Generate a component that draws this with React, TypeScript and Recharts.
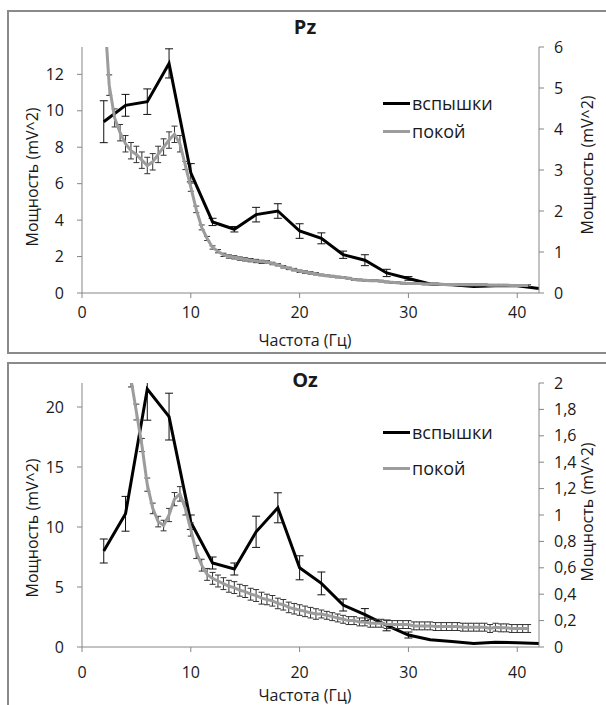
import React from "react";
import { LineChart, Line, XAxis, YAxis, ErrorBar, Legend } from "recharts";

// частоты для вспышек (шаг 2 Гц)
const flashFreq = [2, 4, 6, 8, 10, 12, 14, 16, 18, 20, 22, 24, 26, 28, 30, 32, 34, 36, 38, 40, 42];

// Pz, вспышки (левая ось)
const pzFlash = [9.4, 10.3, 10.5, 12.6, 6.6, 3.9, 3.5, 4.3, 4.5, 3.4, 3.0, 2.1, 1.8, 1.1, 0.8, 0.5, 0.45, 0.35, 0.4, 0.4, 0.25];
const pzFlashErr = [1.15, 0.6, 0.7, 0.8, 0.5, 0.2, 0.15, 0.4, 0.4, 0.4, 0.3, 0.2, 0.3, 0.2, 0.1, 0, 0, 0, 0, 0, 0];

// Oz, вспышки (левая ось)
const ozFlash = [8.0, 11.1, 21.5, 19.2, 10.4, 7.0, 6.5, 9.6, 11.6, 6.6, 5.3, 3.5, 2.7, 1.8, 1.0, 0.6, 0.45, 0.3, 0.4, 0.35, 0.3];
const ozFlashErr = [1.0, 1.45, 2.6, 1.95, 0.6, 0.5, 0.5, 1.3, 1.25, 1.0, 0.95, 0.5, 0.5, 0.45, 0.25, 0, 0, 0, 0, 0, 0];

// частоты для покоя (шаг 0,5 Гц)
const restFreq = [
  2, 2.5, 3, 3.5, 4, 4.5, 5, 5.5, 6, 6.5,
  7, 7.5, 8, 8.5, 9, 9.5, 10, 10.5, 11, 11.5,
  12, 12.5, 13, 13.5, 14, 14.5, 15, 15.5, 16, 16.5,
  17, 17.5, 18, 18.5, 19, 19.5, 20, 20.5, 21, 21.5,
  22, 22.5, 23, 23.5, 24, 24.5, 25, 25.5, 26, 26.5,
  27, 27.5, 28, 28.5, 29, 29.5, 30, 30.5, 31, 31.5,
  32, 32.5, 33, 33.5, 34, 34.5, 35, 35.5, 36, 36.5,
  37, 37.5, 38, 38.5, 39, 39.5, 40, 40.5, 41,
];

// Pz, покой (правая ось)
const pzRest = [
  7.1, 5.07, 4.27, 3.91, 3.64, 3.47, 3.38, 3.24, 3.11, 3.2,
  3.38, 3.56, 3.73, 3.87, 3.64, 3.11, 2.58, 2.04, 1.6, 1.33,
  1.11, 1.02, 0.93, 0.89, 0.87, 0.84, 0.82, 0.8, 0.78, 0.76,
  0.76, 0.72, 0.69, 0.64, 0.6, 0.57, 0.53, 0.51, 0.49, 0.47,
  0.44, 0.42, 0.41, 0.39, 0.38, 0.36, 0.33, 0.32, 0.31, 0.3,
  0.3, 0.29, 0.27, 0.26, 0.25, 0.24, 0.23, 0.23, 0.23, 0.22,
  0.22, 0.22, 0.21, 0.21, 0.21, 0.21, 0.2, 0.2, 0.2, 0.2,
  0.2, 0.19, 0.19, 0.19, 0.19, 0.18, 0.18, 0.18, 0.18,
];
const pzRestErr = [
  0.35, 0.25, 0.22, 0.2, 0.2, 0.2, 0.2, 0.2, 0.2, 0.2,
  0.2, 0.2, 0.2, 0.2, 0.2, 0.1, 0.1, 0.08, 0.06, 0.05,
  0.04, 0.04, 0.04, 0.04, 0.04, 0.04, 0.04, 0.04, 0.04, 0.04,
  0.03, 0.03, 0.03, 0.03, 0.03, 0.03, 0.03, 0.03, 0.03, 0.03,
  0.02, 0.02, 0.02, 0.02, 0.02, 0.02, 0.02, 0.02, 0.02, 0.02,
  0.02, 0.02, 0.02, 0.02, 0.02, 0.02, 0.02, 0.02, 0.02, 0.02,
  0.02, 0.02, 0.02, 0.02, 0.02, 0.02, 0.02, 0.02, 0.02, 0.02,
  0.02, 0.02, 0.02, 0.02, 0.02, 0.02, 0.02, 0.02, 0.02,
];

// Oz, покой (правая ось)
const ozRest = [
  3.6, 3.27, 2.9, 2.55, 2.27, 2.03, 1.78, 1.53, 1.23, 1.05,
  0.95, 0.92, 1.0, 1.12, 1.16, 1.05, 0.89, 0.72, 0.62, 0.55,
  0.52, 0.5, 0.48, 0.46, 0.45, 0.43, 0.42, 0.4, 0.39, 0.37,
  0.36, 0.35, 0.33, 0.32, 0.3, 0.29, 0.28, 0.27, 0.26, 0.25,
  0.25, 0.24, 0.23, 0.22, 0.21, 0.2, 0.2, 0.19, 0.19, 0.18,
  0.18, 0.18, 0.17, 0.17, 0.17, 0.17, 0.17, 0.16, 0.16, 0.16,
  0.16, 0.155, 0.155, 0.155, 0.155, 0.155, 0.15, 0.15, 0.15, 0.15,
  0.15, 0.14, 0.15, 0.145, 0.145, 0.14, 0.14, 0.14, 0.14,
];
const ozRestErr = [
  0.06, 0.06, 0.06, 0.06, 0.06, 0.06, 0.06, 0.05, 0.05, 0.04,
  0.04, 0.04, 0.05, 0.05, 0.055, 0.05, 0.05, 0.05, 0.045, 0.045,
  0.045, 0.045, 0.045, 0.045, 0.045, 0.045, 0.045, 0.045, 0.045, 0.045,
  0.04, 0.04, 0.04, 0.04, 0.04, 0.04, 0.04, 0.04, 0.04, 0.04,
  0.03, 0.03, 0.03, 0.03, 0.03, 0.03, 0.03, 0.03, 0.03, 0.03,
  0.03, 0.03, 0.03, 0.03, 0.03, 0.03, 0.03, 0.03, 0.03, 0.03,
  0.03, 0.03, 0.03, 0.03, 0.03, 0.03, 0.03, 0.03, 0.03, 0.03,
  0.03, 0.03, 0.03, 0.03, 0.03, 0.03, 0.03, 0.03, 0.03,
];

const freqTicks = [0, 10, 20, 30, 40];
const pzLeftTicks = [0, 2, 4, 6, 8, 10, 12];
const pzRightTicks = [0, 1, 2, 3, 4, 5, 6];
const ozLeftTicks = [0, 5, 10, 15, 20];
const ozRightTicks = [0, 0.2, 0.4, 0.6, 0.8, 1, 1.2, 1.4, 1.6, 1.8, 2];

const rows = (freq: number[], v: number[], e: number[]) =>
  freq.map((f, i) => ({ f, v: v[i], e: e[i] }));

const AXIS = "#868686";
const TEXT = "#1a1a1a";
const FLASH = "#000000";
const REST = "#9c9c9c";

type PanelProps = {
  title: string;
  top: number;
  height: number;
  marginTop: number;
  marginBottom: number;
  tickGap: number;
  flash: { f: number; v: number; e: number }[];
  rest: { f: number; v: number; e: number }[];
  leftMax: number;
  leftTicks: number[];
  rightMax: number;
  rightTicks: number[];
  titleY: number;
  xTitleY: number;
  leftTitleY: number;
  rightTitleY: number;
  legendTop: number;
  legendRow: number;
};

function Panel(p: PanelProps) {
  const fmt = (v: number) => String(v).replace(".", ",");
  return (
    <div style={{ position: "absolute", left: 0, top: p.top, width: 606, height: p.height }}>
      <LineChart
        width={606}
        height={p.height}
        margin={{ top: p.marginTop, right: 0, left: 0, bottom: p.marginBottom }}
      >
        <XAxis
          xAxisId="x"
          dataKey="f"
          type="number"
          domain={[0, 42]}
          ticks={freqTicks}
          allowDataOverflow
          height={40}
          stroke={AXIS}
          tickSize={5}
          tickMargin={p.tickGap}
          tick={{ fill: TEXT, fontSize: 16 }}
        />
        <YAxis
          yAxisId="left"
          domain={[0, p.leftMax]}
          ticks={p.leftTicks}
          allowDataOverflow
          width={82}
          stroke={AXIS}
          tickSize={5}
          tickMargin={13}
          tick={{ fill: TEXT, fontSize: 16 }}
        />
        <YAxis
          yAxisId="right"
          orientation="right"
          domain={[0, p.rightMax]}
          ticks={p.rightTicks}
          tickFormatter={fmt}
          allowDataOverflow
          width={67}
          stroke={AXIS}
          tickSize={5}
          tickMargin={10}
          tick={{ fill: TEXT, fontSize: 16 }}
        />
        <Line
          data={p.flash}
          xAxisId="x"
          yAxisId="left"
          dataKey="v"
          name="вспышки"
          type="linear"
          stroke={FLASH}
          strokeWidth={3}
          dot={false}
          isAnimationActive={false}
        >
          <ErrorBar dataKey="e" direction="y" width={4} stroke="#111" strokeWidth={1} />
        </Line>
        <Line
          data={p.rest}
          xAxisId="x"
          yAxisId="right"
          dataKey="v"
          name="покой"
          type="linear"
          stroke={REST}
          strokeWidth={3}
          dot={false}
          isAnimationActive={false}
        >
          <ErrorBar dataKey="e" direction="y" width={3} stroke="#333" strokeWidth={1} />
        </Line>
        <Legend
          layout="vertical"
          align="center"
          verticalAlign="middle"
          wrapperStyle={{ left: 383, top: p.legendTop, width: 140 }}
          content={() => (
            <div>
              {[
                { name: "вспышки", color: FLASH },
                { name: "покой", color: REST },
              ].map((it) => (
                <div
                  key={it.name}
                  style={{ display: "flex", alignItems: "center", height: p.legendRow }}
                >
                  <span style={{ width: 27, height: 3, background: it.color, marginRight: 2 }} />
                  <span style={{ fontSize: 18, color: TEXT }}>{it.name}</span>
                </div>
              ))}
            </div>
          )}
        />
        <text x={305} y={p.xTitleY} textAnchor="middle" dominantBaseline="central" fontSize={16} fill={TEXT}>
          Частота (Гц)
        </text>
        <text
          x={32}
          y={p.leftTitleY}
          textAnchor="middle"
          dominantBaseline="central"
          fontSize={16}
          fill={TEXT}
          transform={`rotate(-90 32 ${p.leftTitleY})`}
        >
          Мощность (mV^2)
        </text>
        <text
          x={587}
          y={p.rightTitleY}
          textAnchor="middle"
          dominantBaseline="central"
          fontSize={16}
          fill={TEXT}
          transform={`rotate(-90 587 ${p.rightTitleY})`}
        >
          Мощность (mV^2)
        </text>
      </LineChart>
      {/* error bars are not clipped to the plot, so hide what pokes out above it */}
      <div
        style={{
          position: "absolute",
          left: 84,
          top: 0,
          width: 453,
          height: p.marginTop - 0.5,
          background: "#fff",
        }}
      />
      <div
        style={{
          position: "absolute",
          left: 205,
          width: 200,
          top: p.titleY - 14,
          height: 28,
          lineHeight: "28px",
          textAlign: "center",
          fontSize: 20,
          fontWeight: "bold",
          color: TEXT,
        }}
      >
        {p.title}
      </div>
    </div>
  );
}

export default function App() {
  return (
    <div
      style={{
        position: "absolute",
        left: 0,
        top: 0,
        width: 606,
        height: 705,
        overflow: "hidden",
        background: "#fff",
        fontFamily: "'Open Sans', sans-serif",
      }}
    >
      <Panel
        title="Pz"
        top={0}
        height={352}
        marginTop={47}
        marginBottom={19}
        tickGap={9}
        flash={rows(flashFreq, pzFlash, pzFlashErr)}
        rest={rows(restFreq, pzRest, pzRestErr)}
        leftMax={13.5}
        leftTicks={pzLeftTicks}
        rightMax={6}
        rightTicks={pzRightTicks}
        titleY={27}
        xTitleY={340}
        leftTitleY={177}
        rightTitleY={165}
        legendTop={89}
        legendRow={28}
      />
      <Panel
        title="Oz"
        top={355}
        height={350}
        marginTop={28}
        marginBottom={18}
        tickGap={15}
        flash={rows(flashFreq, ozFlash, ozFlashErr)}
        rest={rows(restFreq, ozRest, ozRestErr)}
        leftMax={22}
        leftTicks={ozLeftTicks}
        rightMax={2}
        rightTicks={ozRightTicks}
        titleY={25}
        xTitleY={340}
        leftTitleY={173}
        rightTitleY={157}
        legendTop={59}
        legendRow={36}
      />
      <div style={{ position: "absolute", left: 7, top: 10, width: 640, height: 340, border: "2px solid #8a8a8a" }} />
      <div style={{ position: "absolute", left: 7, top: 362, width: 640, height: 400, border: "2px solid #8a8a8a" }} />
    </div>
  );
}
